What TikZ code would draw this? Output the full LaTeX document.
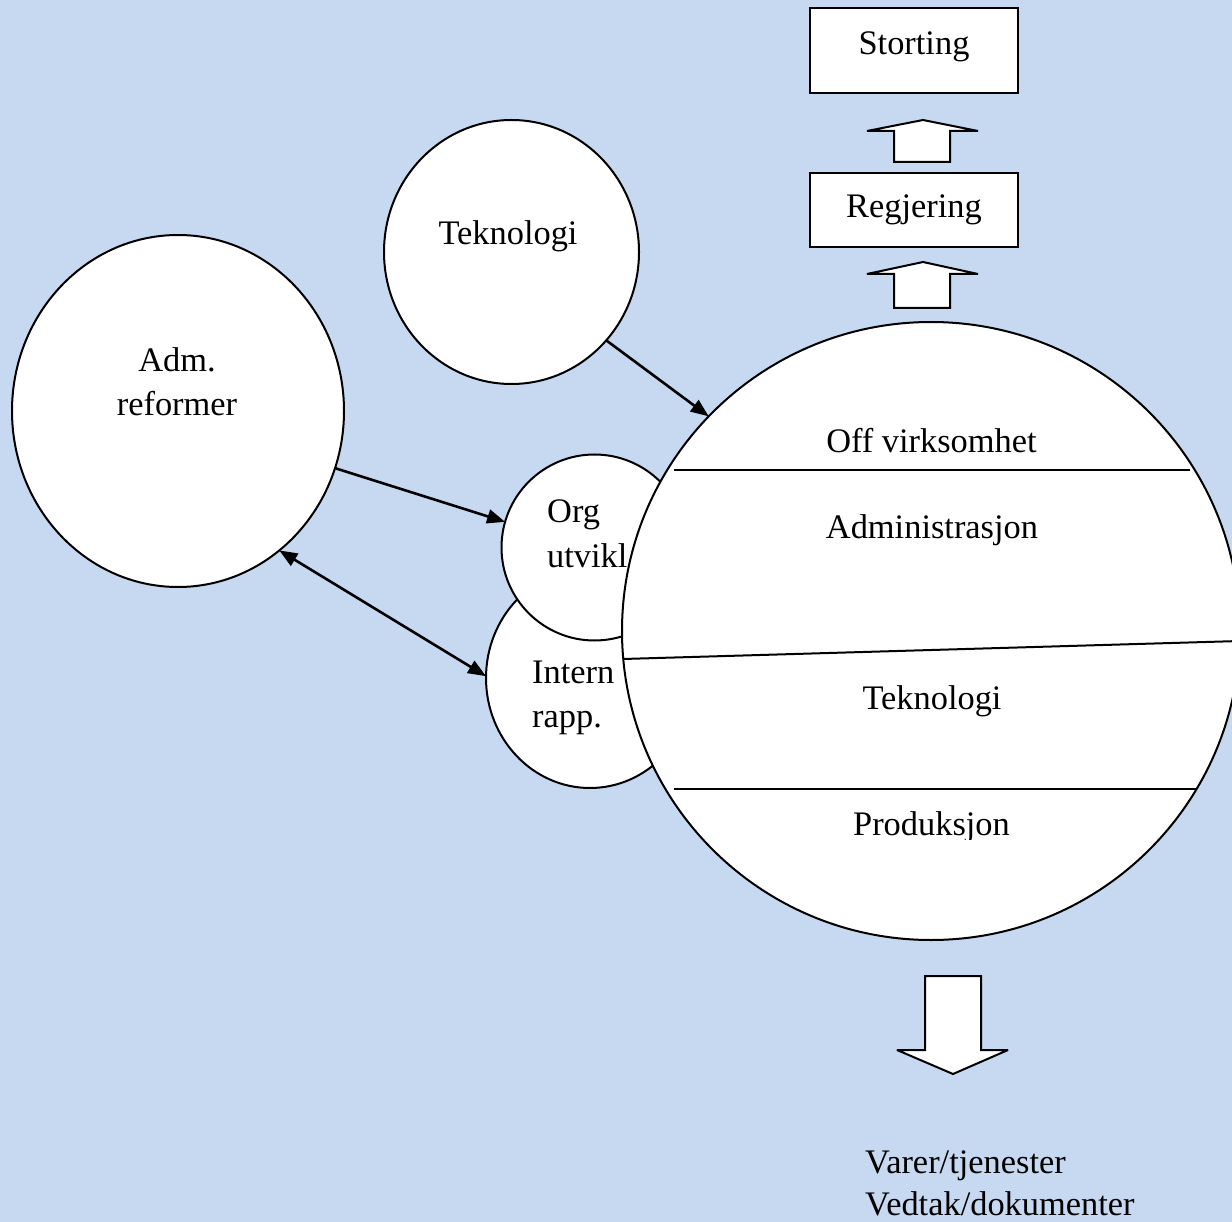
\documentclass[tikz,border=0pt]{standalone}
\usepackage{fontspec}
\setmainfont{Liberation Serif}
\usetikzlibrary{shapes.geometric,arrows.meta}
\definecolor{bgblue}{HTML}{C6D9F1}
\begin{document}
\begin{tikzpicture}[x=1pt,y=-1pt,
  bubble/.style={ellipse,draw,fill=white,line width=2pt,inner sep=0pt,outer sep=0pt},
  txt/.style={font=\fontsize{34.4}{37}\selectfont,inner sep=0pt,anchor=base},
  txtl/.style={txt,anchor=base west},
  boxnode/.style={draw,fill=white,line width=2pt,inner sep=0pt,outer sep=0pt,minimum width=208pt},
  conn/.style={line width=2.6pt,-{Triangle[length=18pt,width=14pt]}},
  dconn/.style={line width=2.6pt,{Triangle[length=18pt,width=14pt]}-{Triangle[length=18pt,width=14pt]}},
  blockarrow/.style={draw,fill=white,line width=2pt,line join=miter,miter limit=2},
  divider/.style={line width=2pt}]
\path[use as bounding box] (0,0) rectangle (1232,1222);
\clip (0,0) rectangle (1232,1222);
\fill[bgblue] (0,0) rectangle (1232,1222);

% boxes and block arrows
\node[boxnode,minimum height=85pt] (storting) at (914,50.5) {};
\node[txt] (stortingtxt) at (914,55) {Storting};
\node[boxnode,minimum height=74pt] (regjering) at (914,210) {};
\node[txt] (regjeringtxt) at (914,218) {Regjering};
\draw[blockarrow] (894,162) -- (894,131) -- (867,131) -- (923,120) -- (978,131) -- (950,131) -- (950,162) -- cycle;
\draw[blockarrow] (894,308) -- (894,274) -- (867,274) -- (923,262) -- (978,274) -- (950,274) -- (950,308) -- cycle;
\draw[blockarrow] (925,976) -- (981,976) -- (981,1050) -- (1008,1050) -- (953,1074) -- (897,1050) -- (925,1050) -- cycle;

% circles
\node[bubble,minimum width=208pt,minimum height=220pt] (intern) at (590,678) {};
\node[bubble,minimum width=186pt,minimum height=186pt] (org) at (594.5,547.5) {};
\node[bubble,minimum width=618pt,minimum height=618pt] (big) at (931,631) {};
\node[bubble,minimum width=255pt,minimum height=264pt] (tek) at (511.5,252) {};
\node[bubble,minimum width=332pt,minimum height=352pt] (adm) at (178,411) {};

% dividers in the big circle
\draw[divider] (674,470) -- (1190,470);
\draw[divider] (623,659) -- (1240,641);
\draw[divider] (674,789) -- (1197,789);

% texts
\node[txt] (tektxt) at (508,245) {Teknologi};
\node[txt] (admtxt1) at (177,372) {Adm.};
\node[txt] (admtxt2) at (177,416) {reformer};
\node[txtl] (orgtxt1) at (547,522) {Org};
\node[txtl] (orgtxt2) at (547,567) {utvikl};
\node[txtl] (interntxt1) at (532,683) {Intern};
\node[txtl] (interntxt2) at (532,727) {rapp.};
\node[txt] (offtxt) at (931.5,453) {Off virksomhet};
\node[txt] (admintxt) at (932,538) {Administrasjon};
\node[txt] (tek2txt) at (932,709) {Teknologi};
\begin{scope}
\clip (800,795) rectangle (1060,839);
\node[txt] (prodtxt) at (931.5,835) {Produksjon};
\end{scope}
\node[txtl] (outtxt1) at (865,1173) {Varer/tjenester};
\node[txtl] (outtxt2) at (865,1215) {Vedtak/dokumenter};

% connectors
\draw[conn] (tek.-43.6) -- (big.136.4);
\draw[conn] (adm.-20.9) -- (org.164.7);
\draw[dconn] (adm.-54.4) -- (intern.179);
\end{tikzpicture}
\end{document}
